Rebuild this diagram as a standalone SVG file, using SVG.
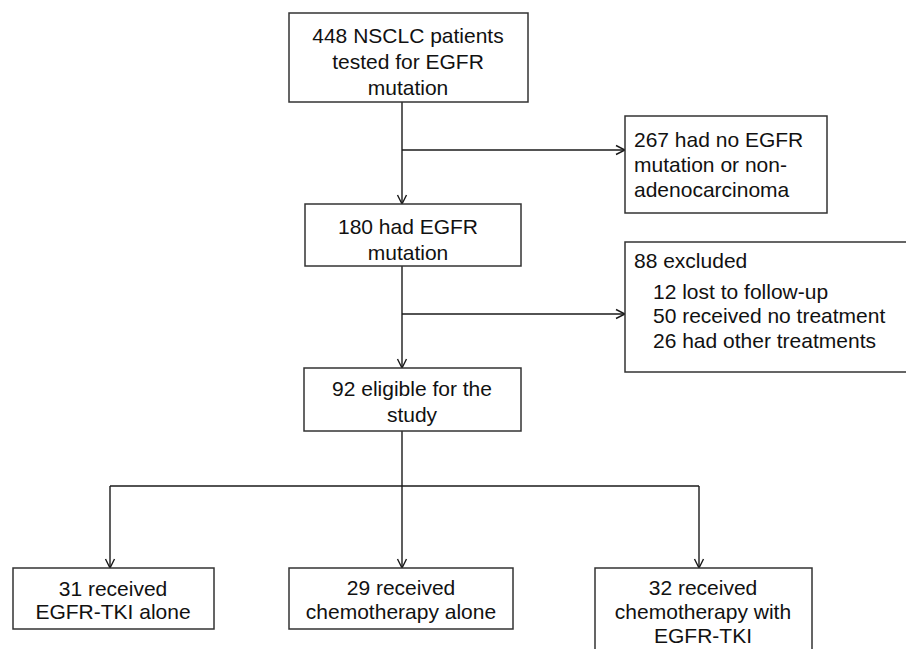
<svg xmlns="http://www.w3.org/2000/svg" width="906" height="649" viewBox="0 0 906 649">
<style>
.box{fill:#fff;stroke:#333;stroke-width:1.5}
.t{font-family:"Liberation Sans",Arial,sans-serif;font-size:21px;fill:#111}
.c{text-anchor:middle}
.ln{fill:none;stroke:#1a1a1a;stroke-width:1.4}
</style>
<defs>
<marker id="ah" markerUnits="userSpaceOnUse" markerWidth="12" markerHeight="12" refX="10" refY="6" orient="auto">
<path d="M1,1.5 L10,6 L1,10.5" fill="none" stroke="#1a1a1a" stroke-width="1.4"/>
</marker>
</defs>
<rect width="906" height="649" fill="#fff"/>
<g id="connectors">
<line class="ln" x1="402" y1="102" x2="402" y2="204" marker-end="url(#ah)"/>
<line class="ln" x1="402" y1="150" x2="625" y2="150" marker-end="url(#ah)"/>
<line class="ln" x1="402" y1="266" x2="402" y2="368" marker-end="url(#ah)"/>
<line class="ln" x1="402" y1="314" x2="625" y2="314" marker-end="url(#ah)"/>
<line class="ln" x1="402" y1="431" x2="402" y2="486"/>
<line class="ln" x1="110" y1="486" x2="699" y2="486"/>
<line class="ln" x1="110" y1="486" x2="110" y2="568" marker-end="url(#ah)"/>
<line class="ln" x1="402" y1="486" x2="402" y2="568" marker-end="url(#ah)"/>
<line class="ln" x1="699" y1="486" x2="699" y2="568" marker-end="url(#ah)"/>
</g>
<g id="n448">
<rect class="box" x="289" y="13" width="239" height="89"/>
<text class="t c" x="408" y="43">448 NSCLC patients</text>
<text class="t c" x="408" y="69">tested for EGFR</text>
<text class="t c" x="408" y="95">mutation</text>
</g>
<g id="n267">
<rect class="box" x="625" y="116" width="202" height="97"/>
<text class="t" x="634" y="147">267 had no EGFR</text>
<text class="t" x="634" y="172">mutation or non-</text>
<text class="t" x="634" y="197">adenocarcinoma</text>
</g>
<g id="n180">
<rect class="box" x="305" y="204" width="216" height="62"/>
<text class="t c" x="408" y="234">180 had EGFR</text>
<text class="t c" x="408" y="260">mutation</text>
</g>
<g id="n88">
<rect class="box" x="625" y="242" width="290" height="130"/>
<text class="t" x="634" y="268">88 excluded</text>
<text class="t" x="653" y="299">12 lost to follow-up</text>
<text class="t" x="653" y="323">50 received no treatment</text>
<text class="t" x="653" y="348">26 had other treatments</text>
</g>
<g id="n92">
<rect class="box" x="304" y="368" width="217" height="63"/>
<text class="t c" x="412" y="396">92 eligible for the</text>
<text class="t c" x="412" y="422">study</text>
</g>
<g id="n31">
<rect class="box" x="13" y="568" width="201" height="61"/>
<text class="t c" x="113" y="596">31 received</text>
<text class="t c" x="113" y="619">EGFR-TKI alone</text>
</g>
<g id="n29">
<rect class="box" x="289" y="568" width="224" height="61"/>
<text class="t c" x="401" y="595">29 received</text>
<text class="t c" x="401" y="619">chemotherapy alone</text>
</g>
<g id="n32">
<rect class="box" x="595" y="568" width="217" height="90"/>
<text class="t c" x="703" y="595">32 received</text>
<text class="t c" x="703" y="619">chemotherapy with</text>
<text class="t c" x="703" y="643">EGFR-TKI</text>
</g>
</svg>
